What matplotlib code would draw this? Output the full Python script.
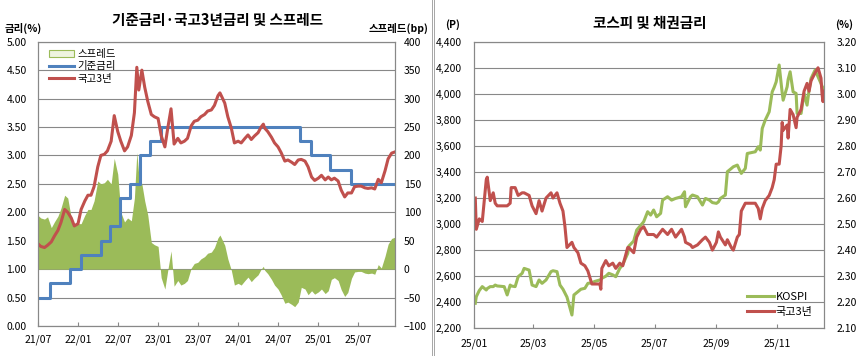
import matplotlib
matplotlib.use('Agg')
import matplotlib.pyplot as plt
import matplotlib.dates as mdates
from matplotlib.lines import Line2D
from matplotlib.patches import Patch
from matplotlib.ticker import MultipleLocator, FuncFormatter
import numpy as np
import pandas as pd

plt.rcParams['font.family'] = ['Noto Sans CJK KR', 'DejaVu Sans']

GREEN = '#9BBB59'
BLUE = '#4F81BD'
RED = '#C0504D'
GREY = '#888888'

# ---- left chart: base rate, KTB 3y, spread (2021/07 ~ 2025/12) ----
k3_dates = ['2021-07-01', '2021-07-15', '2021-08-01', '2021-08-15', '2021-09-01', '2021-09-15',
            '2021-10-01', '2021-10-15', '2021-11-01', '2021-11-15', '2021-12-01', '2021-12-15',
            '2022-01-01', '2022-01-15', '2022-02-01', '2022-02-15', '2022-03-01', '2022-03-15',
            '2022-04-01', '2022-04-15', '2022-05-01', '2022-05-15', '2022-06-01', '2022-06-15',
            '2022-07-01', '2022-07-15', '2022-08-01', '2022-08-15', '2022-09-01', '2022-09-15',
            '2022-09-26', '2022-10-05', '2022-10-19', '2022-11-01', '2022-11-15', '2022-12-01',
            '2022-12-15', '2023-01-01', '2023-01-15', '2023-02-01', '2023-02-15', '2023-03-01',
            '2023-03-15', '2023-04-01', '2023-04-15', '2023-05-01', '2023-05-15', '2023-06-01',
            '2023-06-15', '2023-07-01', '2023-07-15', '2023-08-01', '2023-08-15', '2023-09-01',
            '2023-09-15', '2023-10-01', '2023-10-10', '2023-10-20', '2023-11-01', '2023-11-15',
            '2023-12-01', '2023-12-15', '2024-01-01', '2024-01-15', '2024-02-01', '2024-02-15',
            '2024-03-01', '2024-03-15', '2024-04-01', '2024-04-15', '2024-04-25', '2024-05-01',
            '2024-05-15', '2024-06-01', '2024-06-15', '2024-07-01', '2024-07-15', '2024-08-01',
            '2024-08-15', '2024-09-01', '2024-09-15', '2024-10-01', '2024-10-15', '2024-11-01',
            '2024-11-15', '2024-12-01', '2024-12-15', '2025-01-01', '2025-01-15', '2025-02-01',
            '2025-02-15', '2025-03-01', '2025-03-15', '2025-04-01', '2025-04-15', '2025-05-01',
            '2025-05-15', '2025-06-01', '2025-06-15', '2025-07-01', '2025-07-15', '2025-08-01',
            '2025-08-15', '2025-09-01', '2025-09-15', '2025-10-01', '2025-10-15', '2025-11-01',
            '2025-11-15', '2025-12-01', '2025-12-15']
k3_vals = [1.45, 1.40, 1.38, 1.42, 1.48, 1.58,
           1.68, 1.82, 2.05, 2.00, 1.90, 1.76,
           1.80, 2.05, 2.20, 2.30, 2.30, 2.45,
           2.80, 3.00, 3.02, 3.08, 3.25, 3.70,
           3.42, 3.25, 3.08, 3.15, 3.35, 3.75,
           4.55, 4.15, 4.50, 4.20, 3.95, 3.72,
           3.68, 3.65, 3.35, 3.15, 3.50, 3.82,
           3.20, 3.30, 3.22, 3.25, 3.30, 3.52,
           3.60, 3.62, 3.68, 3.72, 3.78, 3.80,
           3.88, 4.05, 4.10, 4.02, 3.92, 3.68,
           3.48, 3.22, 3.25, 3.22, 3.30, 3.36,
           3.28, 3.34, 3.40, 3.50, 3.55, 3.48,
           3.42, 3.32, 3.22, 3.15, 3.05, 2.90,
           2.92, 2.88, 2.84, 2.92, 2.93, 2.90,
           2.80, 2.62, 2.56, 2.60, 2.65, 2.57,
           2.62, 2.57, 2.60, 2.55, 2.39, 2.27,
           2.34, 2.34, 2.45, 2.46, 2.46, 2.43,
           2.42, 2.43, 2.41, 2.58, 2.52, 2.73,
           2.94, 3.04, 3.06]

base_dates = ['2021-07-01', '2021-08-26', '2021-11-25', '2022-01-14', '2022-04-14', '2022-05-26',
              '2022-07-13', '2022-08-25', '2022-10-12', '2022-11-24', '2023-01-13', '2024-10-11',
              '2024-11-28', '2025-02-25', '2025-05-29', '2025-12-15']
base_vals = [0.50, 0.75, 1.00, 1.25, 1.50, 1.75,
             2.25, 2.50, 3.00, 3.25, 3.50, 3.25,
             3.00, 2.75, 2.50, 2.50]

# ---- right chart: KOSPI and KTB 3y, 2025 ----
day_labels = ['01-02', '01-03', '01-06', '01-09', '01-13', '01-14', '01-17', '01-20', '01-22', '01-24',
              '01-31', '02-03', '02-06', '02-07', '02-11', '02-14', '02-18', '02-20', '02-25', '02-28',
              '03-04', '03-07', '03-10', '03-14', '03-19', '03-21', '03-25', '03-28', '03-31', '04-02',
              '04-04', '04-09', '04-11', '04-15', '04-18', '04-22', '04-25', '04-29', '05-02', '05-07',
              '05-08', '05-09', '05-13', '05-16', '05-20', '05-23', '05-27', '05-30', '06-04', '06-05',
              '06-10', '06-13', '06-17', '06-20', '06-24', '06-27', '06-30', '07-03', '07-07', '07-09',
              '07-14', '07-18', '07-22', '07-28', '07-31', '08-01', '08-06', '08-08', '08-13', '08-18',
              '08-21', '08-25', '08-28', '09-01', '09-03', '09-05', '09-10', '09-12', '09-16', '09-18',
              '09-22', '09-24', '09-26', '09-30', '10-02', '10-10', '10-13', '10-15', '10-17', '10-20',
              '10-24', '10-27', '10-29', '10-31', '11-03', '11-05', '11-06', '11-07', '11-11', '11-12',
              '11-14', '11-17', '11-20', '11-21', '11-25', '11-28', '12-01', '12-03', '12-05', '12-09',
              '12-12', '12-15', '12-16', '12-17', '12-18']
kospi = [2392, 2443, 2490, 2520, 2494, 2505, 2520, 2520, 2532, 2525,
         2520, 2456, 2532, 2525, 2520, 2596, 2622, 2660, 2647, 2532,
         2520, 2571, 2545, 2571, 2635, 2642, 2635, 2532, 2500, 2470,
         2440, 2302, 2456, 2481, 2500, 2507, 2545, 2550, 2560, 2571,
         2575, 2584, 2600, 2622, 2610, 2596, 2660, 2690, 2775, 2830,
         2870, 2954, 2990, 3018, 3095, 3069, 3108, 3056, 3082, 3184,
         3210, 3184, 3197, 3210, 3248, 3133, 3210, 3223, 3210, 3146,
         3197, 3184, 3165, 3159, 3170, 3197, 3223, 3402, 3427, 3440,
         3453, 3420, 3389, 3427, 3542, 3555, 3594, 3568, 3734, 3798,
         3862, 4015, 4050, 4092, 4221, 4079, 4010, 3951, 4054, 4110,
         4169, 4015, 4003, 3849, 3849, 4003, 3913, 4028, 4118, 4182,
         4131, 4079, 4060, 4028, 4040]
ktb3 = [2.60, 2.48, 2.52, 2.51, 2.67, 2.68, 2.59, 2.62, 2.58, 2.57,
        2.57, 2.57, 2.58, 2.64, 2.64, 2.61, 2.62, 2.62, 2.61, 2.57,
        2.54, 2.59, 2.55, 2.60, 2.62, 2.60, 2.62, 2.58, 2.55, 2.49,
        2.41, 2.43, 2.41, 2.39, 2.35, 2.34, 2.32, 2.27, 2.27, 2.27,
        2.25, 2.33, 2.36, 2.34, 2.35, 2.33, 2.35, 2.34, 2.41, 2.41,
        2.39, 2.45, 2.48, 2.49, 2.46, 2.46, 2.46, 2.45, 2.47, 2.48,
        2.46, 2.48, 2.45, 2.48, 2.45, 2.43, 2.42, 2.41, 2.42, 2.44,
        2.45, 2.43, 2.40, 2.43, 2.47, 2.45, 2.42, 2.44, 2.41, 2.40,
        2.45, 2.46, 2.55, 2.58, 2.58, 2.58, 2.56, 2.52, 2.56, 2.59,
        2.61, 2.64, 2.67, 2.73, 2.73, 2.80, 2.89, 2.86, 2.88, 2.83,
        2.94, 2.92, 2.87, 2.91, 2.94, 3.01, 3.04, 3.01, 3.05, 3.08,
        3.10, 3.06, 3.00, 2.97, 3.01]

k3_t = pd.to_datetime(k3_dates)
base_t = pd.to_datetime(base_dates)
base_arr = np.array(base_vals)
# spread (bp) = KTB 3y minus base rate in force on that date
idx = np.searchsorted(base_t.values, k3_t.values, side='right') - 1
spread = (np.array(k3_vals) - base_arr[idx]) * 100

kos_t = pd.to_datetime(['2025-' + d for d in day_labels])

W, H = 866, 356
fig = plt.figure(figsize=(W / 100, H / 100), dpi=100)
fig.patch.set_facecolor('white')


def style_box(a):
    for s in a.spines.values():
        s.set_color(GREY)
        s.set_linewidth(0.8)


# ---------------- left chart ----------------
ax = fig.add_axes([37.7 / W, 1 - 326 / H, 357 / W, 284.3 / H])
ax2 = ax.twinx()
ax.set_zorder(2)
ax2.set_zorder(1)
ax.patch.set_visible(False)

ax2.fill_between(k3_t, spread, 0, color=GREEN, lw=0)
ax2.set_ylim(-100, 400)
ax2.yaxis.set_major_locator(MultipleLocator(50))
ax2.yaxis.grid(True, color=GREY, lw=0.8)
ax2.set_axisbelow(True)
ax2.tick_params(axis='y', length=0, pad=6.5, labelsize=7.5)

ax.step(base_t, base_vals, where='post', color=BLUE, lw=2.2)
ax.plot(k3_t, k3_vals, color=RED, lw=2.2)
ax.set_ylim(0, 5)
ax.yaxis.set_major_locator(MultipleLocator(0.5))
ax.yaxis.set_major_formatter(FuncFormatter(lambda v, p: '%.2f' % v))
ax.tick_params(axis='y', length=0, pad=8, labelsize=7.5)
ax.set_xlim(pd.Timestamp('2021-07-01'), pd.Timestamp('2025-12-15'))
ax.xaxis.set_major_locator(mdates.MonthLocator(bymonth=[1, 7]))
ax.xaxis.set_major_formatter(mdates.DateFormatter('%y/%m'))
ax.tick_params(axis='x', direction='in', length=3, color=GREY, pad=6, labelsize=7.5)
style_box(ax)
style_box(ax2)

leg_handles = [Patch(facecolor='#EEF4E0', edgecolor=GREEN, lw=0.8),
               Line2D([], [], color=BLUE, lw=2.2),
               Line2D([], [], color=RED, lw=2.2)]
fig.legend(leg_handles, ['스프레드', '기준금리', '국고3년'], loc='upper left',
           bbox_to_anchor=(49 / W, 1 - 49 / H), frameon=False, fontsize=7.5,
           handlelength=2.4, handleheight=0.6, handletextpad=0.3,
           labelspacing=0.22, borderpad=0, borderaxespad=0)

fig.text(218 / W, 1 - 20 / H, '기준금리·국고3년금리 및 스프레드', ha='center', va='center',
         fontsize=10.5, fontweight='bold')
fig.text(5 / W, 1 - 28 / H, '금리(%)', ha='left', va='center', fontsize=7.5, fontweight='bold')
fig.text(428 / W, 1 - 28 / H, '스프레드(bp)', ha='right', va='center', fontsize=7.5,
         fontweight='bold')

# ---------------- right chart ----------------
bx = fig.add_axes([474.3 / W, 1 - 328.3 / H, 349.7 / W, 286.6 / H])
bx2 = bx.twinx()
bx.plot(kos_t, kospi, color=GREEN, lw=2.2)
bx2.plot(kos_t, ktb3, color=RED, lw=2.2)
bx.set_ylim(2200, 4400)
bx.yaxis.set_major_locator(MultipleLocator(200))
bx.yaxis.set_major_formatter(FuncFormatter(lambda v, p: '{:,.0f}'.format(v)))
bx.yaxis.grid(True, color=GREY, lw=0.8)
bx.set_axisbelow(True)
bx.tick_params(axis='y', length=0, pad=9, labelsize=7.5)
bx2.set_ylim(2.10, 3.20)
bx2.yaxis.set_major_locator(MultipleLocator(0.1))
bx2.yaxis.set_major_formatter(FuncFormatter(lambda v, p: '%.2f' % v))
bx2.tick_params(axis='y', length=0, pad=9, labelsize=7.5)
bx.set_xlim(pd.Timestamp('2025-01-01'), pd.Timestamp('2025-12-18'))
bx.xaxis.set_major_locator(mdates.MonthLocator(bymonth=[1, 3, 5, 7, 9, 11]))
bx.xaxis.set_major_formatter(mdates.DateFormatter('%y/%m'))
bx.tick_params(axis='x', direction='in', length=3, color=GREY, pad=7, labelsize=7.5)
style_box(bx)
style_box(bx2)

fig.legend([Line2D([], [], color=GREEN, lw=2.2), Line2D([], [], color=RED, lw=2.2)],
           ['KOSPI', '국고3년'], loc='upper left', bbox_to_anchor=(747 / W, 1 - 292 / H),
           frameon=False, fontsize=8, handlelength=2.4, handletextpad=0.2,
           labelspacing=0.45, borderpad=0, borderaxespad=0)

fig.text(650 / W, 1 - 23 / H, '코스피 및 채권금리', ha='center', va='center',
         fontsize=10.5, fontweight='bold')
fig.text(453 / W, 1 - 25 / H, '(P)', ha='center', va='center', fontsize=7.5, fontweight='bold')
fig.text(844 / W, 1 - 25 / H, '(%)', ha='center', va='center', fontsize=7.5, fontweight='bold')

# divider between the two panels
for xp in (432, 434):
    fig.add_artist(Line2D([xp / W, xp / W], [0, 1], transform=fig.transFigure,
                          color='#A6A6A6', lw=0.7))

fig.savefig('out.png', dpi=100)
